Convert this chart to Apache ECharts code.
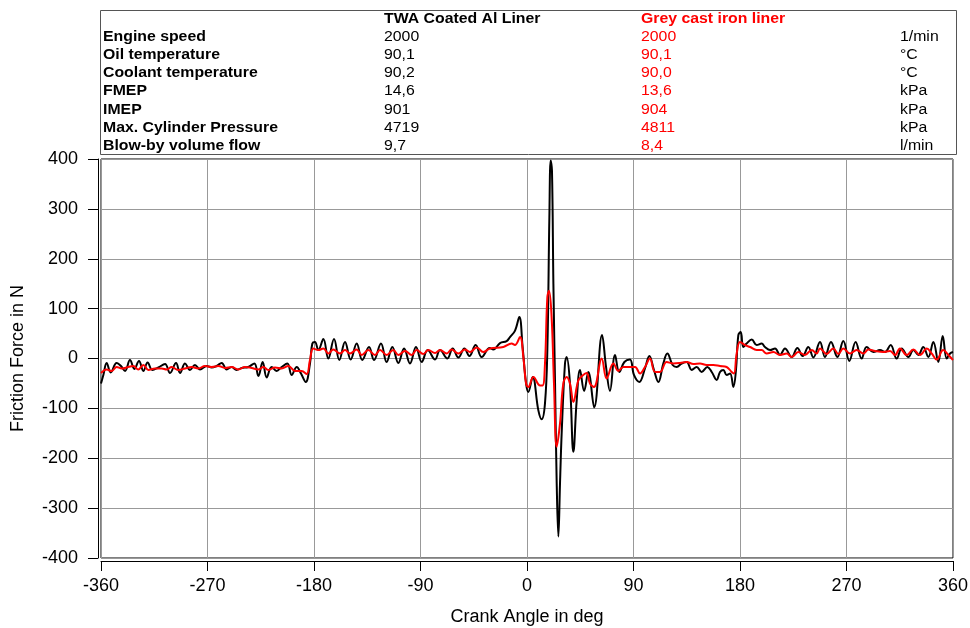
<!DOCTYPE html>
<html>
<head>
    <meta charset="utf-8">
    <title>Friction Force</title>
    <script src="https://cdn.jsdelivr.net/npm/echarts@6/dist/echarts.min.js"></script>
    <style>
        html, body { margin: 0; padding: 0; background: #fff; }
        #chart { width: 970px; height: 628px; }
    </style>
</head>
<body>
<div id="chart"></div>
<script type="text/javascript">
    // TWA coated Al liner (black)
    var blackAngle = [-360,-358,-355.2,-351.8,-346.8,-343.1,-339.7,-335.5,-331.8,-327.9,-324.2,-320.6,-316.6,-311.5,-305.9,-301.7,-296.6,-293.2,-289,-284.8,-280.6,-276.3,-270.7,-266.5,-262.3,-258,-253.8,-249.6,-245.4,-241.1,-235.5,-230.4,-227,-223.4,-220,-215.8,-211.6,-207.3,-202.5,-198.9,-194.6,-191,-187,-183.4,-181.4,-179.2,-176.3,-172.1,-167.9,-163.1,-158.6,-153.8,-149,-143.9,-139.2,-133.5,-129.3,-123.4,-118.6,-113.8,-108.7,-103.9,-98.9,-93.8,-89,-83.9,-77.7,-73.5,-67.3,-62.8,-58,-52.9,-48.7,-43.4,-38.3,-31.5,-28.5,-22.8,-17.2,-14.4,-10.1,-6.5,-3.7,-0.8,1.1,4.8,9.6,12.4,15.2,17.2,18.9,20,21.1,22.3,23.7,25.1,26.5,27.9,29.3,32.1,33.5,36.3,39.2,42,44.8,48.3,51.8,56.8,63.4,66.8,70.1,74.4,78,82.3,87,90.4,94.9,99.7,103.4,107.3,111,115.2,118.6,123.1,126.5,130.7,134.9,139.2,143.4,147.6,152.4,156.1,160.3,163.1,165.9,168.7,171.6,174.4,176.6,178.6,180.6,182.8,185.6,189.9,194.1,198.3,201.1,205.4,209.6,213.8,218,223.7,228.5,233,237.7,242,247.6,251.8,256.9,262.3,267.3,272.4,277.7,282.8,287,292.7,298.3,302.5,307.3,312.4,316.6,322.3,326.5,330.7,334.9,339.2,343.4,347.6,351.3,354.7,357.5,360];
    var blackForce = [-50,-33,-9,-28,-9,-15,-25,-3,-21,-5,-25,-8,-23,-18,-11,-29,-9,-29,-10,-23,-13,-22,-15,-18,-15,-9,-22,-17,-23,-19,-17,-10,-35,-7,-38,-17,-25,-17,-10,-33,-17,-30,-47,-10,30,33,17,39,0,39,-3,33,-2,30,-3,23,-3,30,-7,23,-9,20,-10,23,-7,17,-2,17,0,20,2,20,5,27,3,21,18,31,35,43,56,83,23,-50,-67,-37,-104,-122,-90,17,283,397,377,150,-50,-250,-357,-250,-150,-10,3,-50,-187,-84,-23,-65,-27,-98,47,-17,-65,7,-27,-7,-2,-33,-47,-20,5,-23,-47,-10,10,-13,-17,-10,-7,-23,-17,-27,-17,-27,-43,-27,-23,-33,-30,-57,-23,47,53,23,30,38,27,30,23,17,20,7,20,3,21,5,23,2,33,3,33,3,35,-5,33,0,23,13,17,13,27,0,20,3,17,7,23,3,33,-7,45,0,10,13];

    // Grey cast iron liner (red)
    var redAngle = [-360,-355.2,-351,-346.8,-342.5,-336.9,-332.7,-328.5,-324.2,-320,-314.4,-308.7,-304.5,-300.3,-294.7,-289,-283.4,-277.8,-272.1,-266.5,-260.8,-255.2,-249.6,-244,-238.3,-232.7,-227,-222.8,-218.6,-212.9,-207.3,-201.7,-196,-190.4,-186.2,-183.4,-180.6,-176.3,-172.1,-167.9,-163.7,-158,-153.8,-149.6,-144,-139.7,-134.1,-128.5,-124.2,-118.6,-113,-108.7,-103.1,-97.5,-93.3,-87.6,-83.4,-77.7,-73.5,-67.9,-63.7,-58,-52.4,-48.2,-42.5,-36.9,-31.3,-20,-13,-10.2,-5.9,-3.1,-0.8,1.1,5.4,11,13.2,15.2,17.2,18.6,20.8,22.8,25.1,27.9,30.7,33.5,36.3,39.2,43.4,47,50.4,53.2,56.6,63.1,67.3,73,77.2,81.4,87,91.3,95.5,99.7,103.9,108.2,112.4,118,123.7,129.3,134.9,140.6,146.2,151.8,157.5,163.1,168.7,173,174.9,177.2,180,184.2,188.5,194.1,198.3,202.5,208.2,213.8,219.4,223.7,229.3,234.9,240.6,244.8,247.6,253.2,258.9,263.1,267.3,273,278.6,284.2,288.5,294.1,301.1,306.8,311,315.2,320.9,326.5,332.1,337.8,342,346.2,351.8,356.1,360];
    var redForce = [-29,-22,-25,-17,-20,-17,-15,-22,-13,-23,-20,-20,-22,-17,-23,-20,-17,-20,-15,-17,-15,-19,-17,-22,-17,-19,-22,-17,-23,-18,-20,-15,-25,-25,-31,-3,20,17,20,10,18,10,17,10,18,7,17,7,17,7,17,7,15,7,17,9,17,11,17,10,18,10,18,13,22,13,20,23,30,27,43,3,-50,-57,-37,-54,-54,-10,123,136,83,-50,-177,-130,-50,-37,-50,-87,-44,-34,-29,-50,-57,0,-40,-10,-25,-17,-17,-17,-30,-17,0,-27,-27,-7,-10,-9,-7,-11,-10,-13,-13,-15,-17,-27,-30,10,33,27,23,17,17,10,13,7,10,3,13,7,17,10,20,9,20,9,20,10,17,10,18,15,13,15,7,20,7,18,7,20,10,-2,17,7,-3];

    var xTicks = [-360, -270, -180, -90, 0, 90, 180, 270, 360];
    var yTicks = [-400, -300, -200, -100, 0, 100, 200, 300, 400];

    // table above the plot
    var rowNames = ['Engine speed', 'Oil temperature', 'Coolant temperature', 'FMEP', 'IMEP', 'Max. Cylinder Pressure', 'Blow-by volume flow'];
    var twaValues = ['2000', '90,1', '90,2', '14,6', '901', '4719', '9,7'];
    var greyValues = ['2000', '90,1', '90,0', '13,6', '904', '4811', '8,4'];
    var units = ['1/min', '°C', '°C', 'kPa', 'kPa', 'kPa', 'l/min'];

    function pairs(xs, ys) {
        var out = [];
        for (var i = 0; i < xs.length; i++) out.push([xs[i], ys[i]]);
        return out;
    }

    var FONT = '"Liberation Sans", Arial, sans-serif';

    function cell(text, x, y, bold, color) {
        return {
            type: 'text', x: x, y: y, scaleX: 1.13,
            style: {
                text: text, fill: color || '#000',
                font: (bold ? 'bold ' : '') + '14px ' + FONT,
                verticalAlign: 'middle', align: 'left'
            }
        };
    }

    var graphics = [{
        type: 'rect',
        shape: { x: 100.5, y: 10.5, width: 856, height: 144 },
        style: { fill: '#fff', stroke: '#555', lineWidth: 1 }
    }];
    graphics.push(cell('TWA Coated Al Liner', 384, 19, true));
    graphics.push(cell('Grey cast iron liner', 641, 19, true, '#ff0000'));
    for (var i = 0; i < rowNames.length; i++) {
        var y = 37 + i * 18.2;
        graphics.push(cell(rowNames[i], 103, y, true));
        graphics.push(cell(twaValues[i], 384, y, false));
        graphics.push(cell(greyValues[i], 641, y, false, '#ff0000'));
        graphics.push(cell(units[i], 900, y, false));
    }

    var myChart = echarts.init(document.getElementById('chart'));
    myChart.setOption({
        animation: false,
        backgroundColor: '#fff',
        textStyle: { fontFamily: FONT },
        graphic: graphics,
        grid: {
            left: 101, right: 17, top: 159, bottom: 70,
            outerBoundsMode: 'none',
            show: true, borderColor: '#000', borderWidth: 1
        },
        xAxis: {
            type: 'value',
            min: xTicks[0], max: xTicks[xTicks.length - 1], interval: 90,
            offset: 3,
            name: 'Crank Angle in deg',
            nameLocation: 'middle', nameGap: 47,
            nameTextStyle: { fontSize: 18, color: '#000', fontFamily: FONT },
            axisLine: { show: true, onZero: false, lineStyle: { color: '#000', width: 1 } },
            axisTick: { show: true, length: 10, lineStyle: { color: '#000' } },
            axisLabel: { fontSize: 18, color: '#000', margin: 16, fontFamily: FONT },
            splitLine: { show: true, lineStyle: { color: '#999', width: 1 } }
        },
        yAxis: {
            type: 'value',
            min: yTicks[0], max: yTicks[yTicks.length - 1], interval: 100,
            offset: 3,
            name: 'Friction Force in N',
            nameLocation: 'middle', nameGap: 71,
            nameTextStyle: { fontSize: 18, color: '#000', fontFamily: FONT },
            axisLine: { show: true, onZero: false, lineStyle: { color: '#000', width: 1 } },
            axisTick: { show: true, length: 10, lineStyle: { color: '#000' } },
            axisLabel: { fontSize: 18, color: '#000', margin: 20, fontFamily: FONT },
            splitLine: { show: true, lineStyle: { color: '#999', width: 1 } }
        },
        series: [{
            name: 'TWA Coated Al Liner',
            type: 'line',
            data: pairs(blackAngle, blackForce),
            smooth: 0.4,
            showSymbol: false,
            lineStyle: { color: '#000', width: 2 }
        }, {
            name: 'Grey cast iron liner',
            type: 'line',
            data: pairs(redAngle, redForce),
            smooth: 0.4,
            showSymbol: false,
            lineStyle: { color: '#ff0000', width: 2 }
        }]
    });
</script>
</body>
</html>
